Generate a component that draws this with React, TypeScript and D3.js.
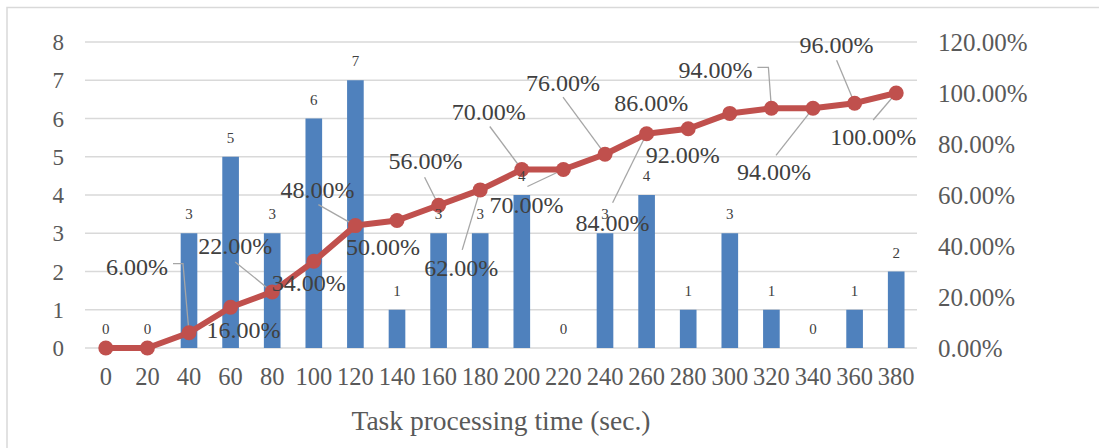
import React from "react";
import * as d3 from "d3";

// Processing-time bins (seconds), task counts per bin, cumulative share (%)
const categories = [0, 20, 40, 60, 80, 100, 120, 140, 160, 180, 200, 220, 240, 260, 280, 300, 320, 340, 360, 380];
const counts = [0, 0, 3, 5, 3, 6, 7, 1, 3, 3, 4, 0, 3, 4, 1, 3, 1, 0, 1, 2];
const cumulativePct = [0, 0, 6, 16, 22, 34, 48, 50, 56, 62, 70, 70, 76, 84, 86, 92, 94, 94, 96, 100];
const leftTicks = [0, 1, 2, 3, 4, 5, 6, 7, 8];
const rightTicks = [0, 20, 40, 60, 80, 100, 120];
const xTitle = "Task processing time (sec.)";

// Placement of the percentage labels relative to their marker: text centre and leader path
type LabelPlace = { tx: number; ty: number; leader: [number, number][] } | null;
const labelPlaces: LabelPlace[] = [
  null,
  null,
  { tx: -52, ty: -66, leader: [[-16, -69], [-6, -69]] },
  { tx: 13, ty: 23, leader: [] },
  { tx: -37, ty: -46, leader: [[-37, -30]] },
  { tx: -5, ty: 22, leader: [] },
  { tx: -38, ty: -36, leader: [[-37, -21]] },
  { tx: -14, ty: 26, leader: [] },
  { tx: -13, ty: -44, leader: [[-14, -28]] },
  { tx: -19, ty: 78, leader: [[-18, 60]] },
  { tx: -33, ty: -58, leader: [[-32, -43]] },
  { tx: -37, ty: 35, leader: [[-36, 17]] },
  { tx: -42, ty: -71, leader: [[-42, -57]] },
  { tx: -34, ty: 89, leader: [[-34, 69]] },
  { tx: -37, ty: -26, leader: [] },
  { tx: -47, ty: 42, leader: [[-47, 20]] },
  { tx: -56, ty: -38, leader: [[-14, -41], [-3, -41]] },
  { tx: -39, ty: 64, leader: [[-37, 47]] },
  { tx: -18, ty: -58, leader: [[-18, -43]] },
  { tx: -23, ty: 44, leader: [[-23, 27]] },
];

const W = 1099;
const H = 448;
const plot = { left: 85, right: 917, top: 42, bottom: 348 };
const FONT = "'Liberation Serif', 'Times New Roman', Times, serif";
const AXIS_COLOR = "#595959";
const GRID = "#d9d9d9";
const BAR = "#4F81BD";
const LINE = "#C0504D";

const T: React.CSSProperties = { fontFamily: FONT };

export default function App() {
  const x = d3
    .scaleBand<number>()
    .domain(categories)
    .range([plot.left, plot.right])
    .paddingInner(0)
    .paddingOuter(0);
  const yL = d3.scaleLinear().domain([0, 8]).range([plot.bottom, plot.top]);
  const yR = d3.scaleLinear().domain([0, 120]).range([plot.bottom, plot.top]);
  const bw = x.bandwidth() / 2.5;
  const cx = (c: number) => (x(c) as number) + x.bandwidth() / 2;

  const linePath = d3
    .line<number>()
    .x((_, i) => cx(categories[i]))
    .y((d) => yR(d))(cumulativePct) as string;

  return (
    <svg
      width={W}
      height={H}
      style={{ position: "absolute", left: 0, top: 0, background: "#fff", fontFamily: FONT }}
    >
      <rect x={0} y={0} width={W} height={H} fill="#fff" />
      {/* chart frame */}
      <path d={`M7,${H + 5} V7.5 H${W + 5}`} fill="none" stroke={GRID} strokeWidth={1.5} />

      {/* horizontal gridlines */}
      {leftTicks.map((t) => (
        <line
          key={"g" + t}
          x1={plot.left}
          x2={plot.right}
          y1={yL(t)}
          y2={yL(t)}
          stroke={GRID}
          strokeWidth={1.4}
        />
      ))}

      {/* left axis labels */}
      {leftTicks.map((t) => (
        <text key={"l" + t} style={T} x={64} y={yL(t) + 8} textAnchor="end" fontSize={23} fill={AXIS_COLOR}>
          {t}
        </text>
      ))}

      {/* right axis labels */}
      {rightTicks.map((t) => (
        <text key={"r" + t} style={T} x={938} y={yR(t) + 8.5} textAnchor="start" fontSize={25} fill={AXIS_COLOR}>
          {t.toFixed(2) + "%"}
        </text>
      ))}

      {/* bars */}
      {categories.map((c, i) => (
        <rect
          key={"b" + c}
          x={cx(c) - bw / 2}
          y={yL(counts[i])}
          width={bw}
          height={plot.bottom - yL(counts[i])}
          fill={BAR}
        />
      ))}

      {/* x axis labels */}
      {categories.map((c) => (
        <text key={"x" + c} style={T} x={cx(c)} y={385} textAnchor="middle" fontSize={24.5} fill={AXIS_COLOR}>
          {c}
        </text>
      ))}
      <text style={T} x={(plot.left + plot.right) / 2} y={430} textAnchor="middle" fontSize={27.5} fill={AXIS_COLOR}>
        {xTitle}
      </text>

      {/* leader lines */}
      {cumulativePct.map((p, i) => {
        const lp = labelPlaces[i];
        if (!lp || lp.leader.length === 0) return null;
        const mx = cx(categories[i]);
        const my = yR(p);
        const pts = [...lp.leader, [0, 0] as [number, number]].map(([dx, dy]) => [mx + dx, my + dy] as [number, number]);
        return (
          <path
            key={"ld" + i}
            d={d3.line()(pts) as string}
            fill="none"
            stroke="#a6a6a6"
            strokeWidth={1.3}
          />
        );
      })}

      {/* cumulative line */}
      <path d={linePath} fill="none" stroke={LINE} strokeWidth={6} strokeLinejoin="round" />
      {cumulativePct.map((p, i) => (
        <circle key={"m" + i} cx={cx(categories[i])} cy={yR(p)} r={7.5} fill={LINE} />
      ))}

      {/* bar value labels */}
      {categories.map((c, i) => (
        <text
          key={"bl" + c}
          style={T}
          x={cx(c)}
          y={yL(counts[i]) - 14}
          textAnchor="middle"
          fontSize={15}
          fill="#404040"
        >
          {counts[i]}
        </text>
      ))}

      {/* percentage labels */}
      {cumulativePct.map((p, i) => {
        const lp = labelPlaces[i];
        if (!lp) return null;
        return (
          <text
            key={"pl" + i}
            style={T}
            x={cx(categories[i]) + lp.tx}
            y={yR(p) + lp.ty + 8}
            textAnchor="middle"
            fontSize={24}
            fill="#404040"
          >
            {p.toFixed(2) + "%"}
          </text>
        );
      })}
    </svg>
  );
}
